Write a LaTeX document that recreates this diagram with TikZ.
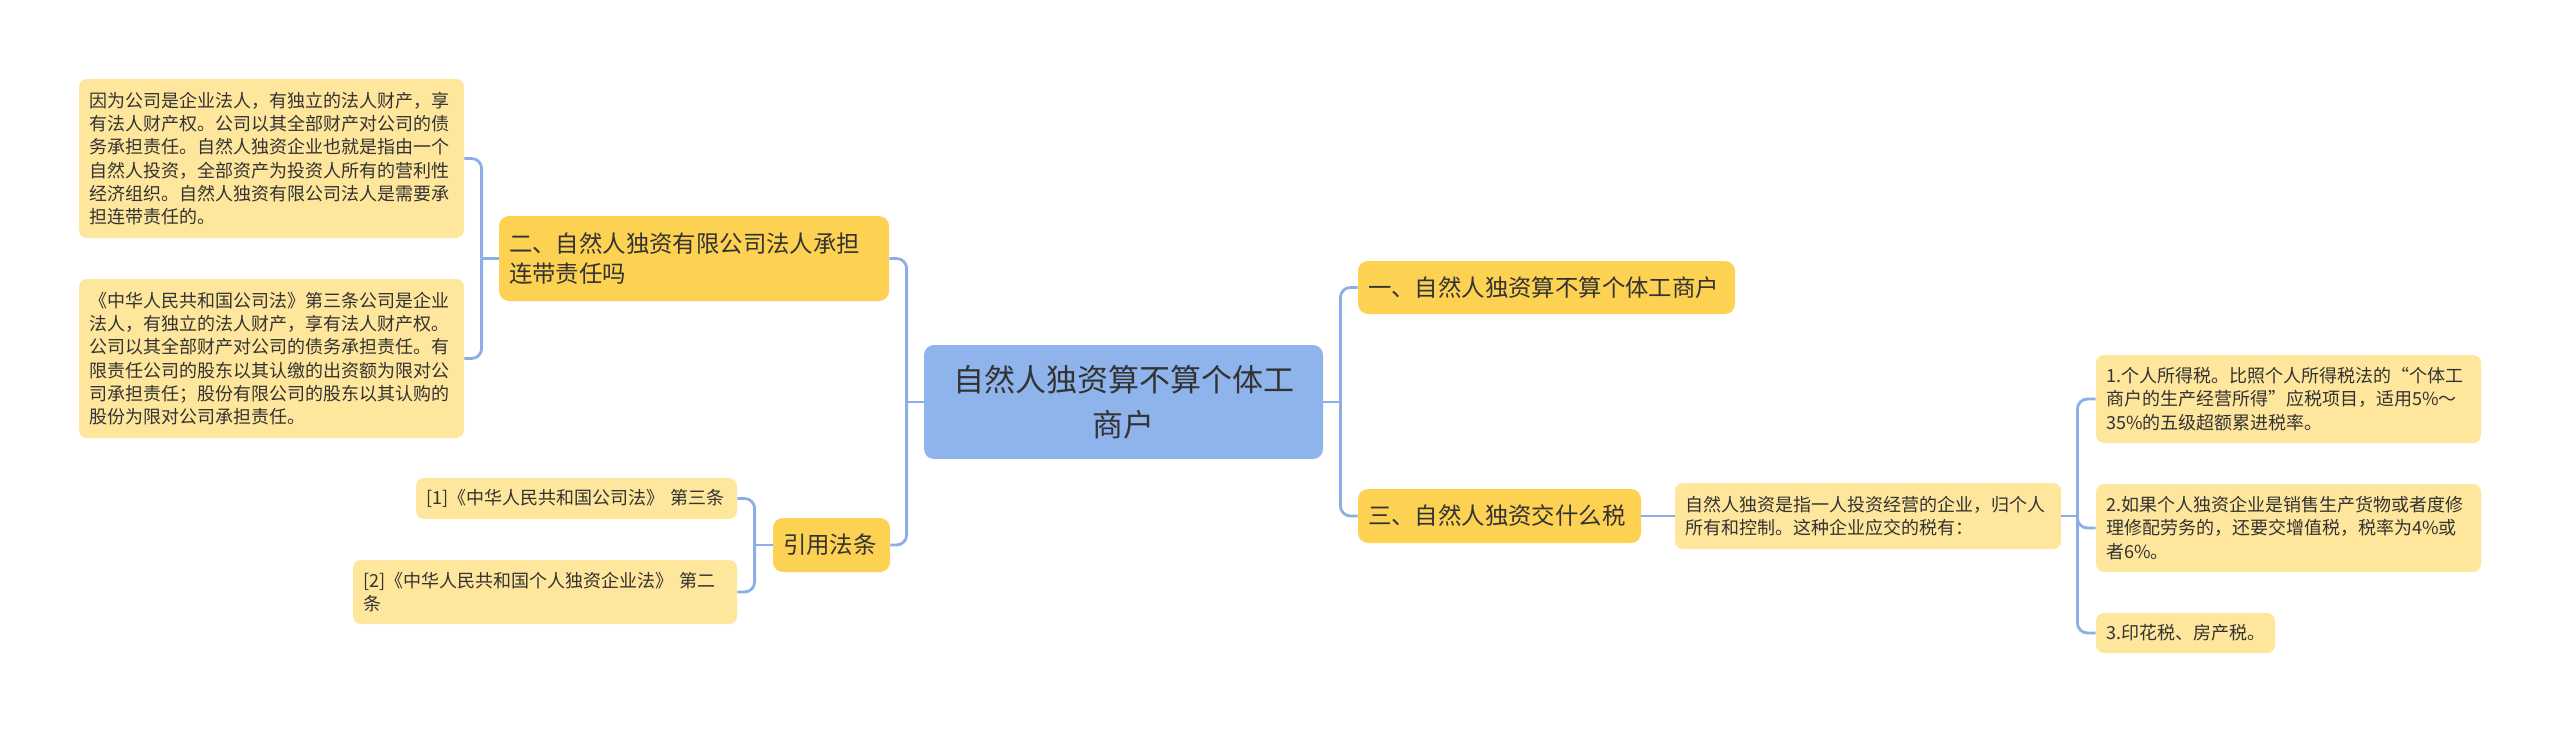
\documentclass[tikz,border=0pt]{standalone}
\usepackage{fontspec}
\setmainfont{Noto Sans CJK SC}
\usetikzlibrary{calc}

\definecolor{rootblue}{HTML}{8FB3EB}
\definecolor{topicgold}{HTML}{FDD253}
\definecolor{notecream}{HTML}{FEE69C}
\definecolor{linkblue}{HTML}{8CAEE6}
\definecolor{inkgray}{HTML}{333333}

\begin{document}
\begin{tikzpicture}[x=0.5pt, y=-0.5pt,
  rootbox/.style={draw=none, fill=rootblue, rounded corners=5pt, text=inkgray, align=center,
    inner xsep=5pt, inner ysep=2pt, font=\fontsize{15.5pt}{22.5pt}\selectfont},
  topicbox/.style={draw=none, fill=topicgold, rounded corners=5pt, text=inkgray, align=left,
    inner xsep=5pt, inner ysep=2pt, font=\fontsize{11.7pt}{15pt}\selectfont},
  notebox/.style={draw=none, fill=notecream, rounded corners=4pt, text=inkgray, align=left,
    inner xsep=5pt, inner ysep=2pt, font=\fontsize{9pt}{11.6pt}\selectfont},
  link/.style={draw=linkblue, line width=1.4pt, rounded corners=5pt}]
  \useasboundingbox (0,0) rectangle (2560,733);

  % centre
  \node[rootbox, text width=189pt, minimum width=199.5pt, minimum height=57pt] (root) at (1123.5,402)
    {自然人独资算不算个体工\\商户};

  % left side
  \node[topicbox, text width=185pt, minimum height=42.5pt] (liab) at (694,258.5)
    {二、自然人独资有限公司法人承担\\连带责任吗};
  \node[notebox, text width=182.5pt, minimum height=79.5pt] (liabA) at (271.5,158.5)
    {因为公司是企业法人，有独立的法人财产，享\\有法人财产权。公司以其全部财产对公司的债\\务承担责任。自然人独资企业也就是指由一个\\自然人投资，全部资产为投资人所有的营利性\\经济组织。自然人独资有限公司法人是需要承\\担连带责任的。};
  \node[notebox, text width=182.5pt, minimum height=79.5pt] (liabB) at (271.5,358.5)
    {《中华人民共和国公司法》第三条公司是企业\\法人，有独立的法人财产，享有法人财产权。\\公司以其全部财产对公司的债务承担责任。有\\限责任公司的股东以其认缴的出资额为限对公\\司承担责任；股份有限公司的股东以其认购的\\股份为限对公司承担责任。};

  \node[topicbox, text width=48.5pt, minimum height=27pt] (cite) at (831.5,545) {引用法条};
  \node[notebox, text width=150.5pt, minimum height=20.5pt] (citeA) at (576.5,498.5)
    {[1]《中华人民共和国公司法》 第三条};
  \node[notebox, text width=182pt, minimum height=32pt] (citeB) at (545,592)
    {[2]《中华人民共和国个人独资企业法》 第二\\条};

  % right side
  \node[topicbox, text width=178.5pt, minimum height=26.5pt] (kind) at (1546.5,287.5)
    {一、自然人独资算不算个体工商户};
  \node[topicbox, text width=131.5pt, minimum height=27pt] (tax) at (1499.5,516)
    {三、自然人独资交什么税};
  \node[notebox, text width=183pt, minimum height=33pt] (taxnote) at (1868,516)
    {自然人独资是指一人投资经营的企业，归个人\\所有和控制。这种企业应交的税有：};
  \node[notebox, text width=182.5pt, minimum height=44pt] (tax1) at (2288.5,399)
    {1.个人所得税。比照个人所得税法的“个体工\\商户的生产经营所得”应税项目，适用5\%～\\35\%的五级超额累进税率。};
  \node[notebox, text width=182.5pt, minimum height=44pt] (tax2) at (2288.5,528)
    {2.如果个人独资企业是销售生产货物或者度修\\理修配劳务的，还要交增值税，税率为4\%或\\者6\%。};
  \node[notebox, text width=79.5pt, minimum height=20pt] (tax3) at (2185.5,633)
    {3.印花税、房产税。};

  % trunks
  \coordinate (rootL) at ($(root.west)+(-17,0)$);
  \coordinate (rootR) at ($(root.east)+(17,0)$);
  \coordinate (liabJ) at ($(liab.west)+(-17,0)$);
  \coordinate (citeJ) at ($(cite.west)+(-18,0)$);
  \coordinate (noteJ) at ($(taxnote.east)+(16,0)$);

  \draw[link] (root.west) -- (rootL);
  \draw[link] (rootL) |- (liab.east);
  \draw[link] (rootL) |- (cite.east);
  \draw[link] (root.east) -- (rootR);
  \draw[link] (rootR) |- (kind.west);
  \draw[link] (rootR) |- (tax.west);

  \draw[link] (liab.west) -- (liabJ);
  \draw[link] (liabJ) |- (liabA.east);
  \draw[link] (liabJ) |- (liabB.east);
  \draw[link] (cite.west) -- (citeJ);
  \draw[link] (citeJ) |- (citeA.east);
  \draw[link] (citeJ) |- (citeB.east);

  \draw[link] (tax.east) -- (taxnote.west);
  \draw[link] (taxnote.east) -- (noteJ);
  \draw[link] (noteJ) |- (tax1.west);
  \draw[link] (noteJ) |- (tax2.west);
  \draw[link] (noteJ) |- (tax3.west);
\end{tikzpicture}
\end{document}
